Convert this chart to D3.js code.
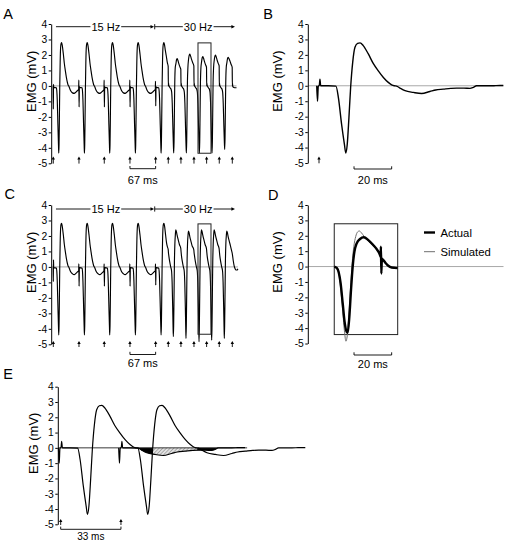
<!DOCTYPE html>
<html><head><meta charset="utf-8">
<script src="https://cdn.jsdelivr.net/npm/d3@7"></script>
<style>
body{margin:0;background:#fff;}
svg{display:block;font-family:"Liberation Sans",Arial,sans-serif;}
</style></head><body>
<svg id="chart" width="507" height="547"></svg>
<script>
// ---------------- DATA (ms, mV) ----------------
const yTicks = [4,3,2,1,0,-1,-2,-3,-4,-5];
const stimTrain = [0,67,133,200,267,300,333,367,400,433,467];
const stimSingle = [0];
const stimPair = [0,32];
const hzLabels = ["15 Hz","30 Hz"];
const hzBounds = [7,263,474];
const hzLabelAt = [137,378];
const barTrain = [200,267], barTrainLabel = "67 ms";
const barSingle = [18.6,38.6], barSingleLabel = "20 ms";
const barPair = [0,32], barPairLabel = "33 ms";
const boxTrain = [377.5,411.4,-4.35,2.78];
const boxD = [8.1,41.8,-4.42,2.78];
const legendNames = ["Actual","Simulated"];
const fillSegments = [[40.6,48.8,"solid"],[48.8,72.5,"hatch"],[72.5,84,"solid"]];

const mwave = [[-1.2,0],[-0.8,-1.0],[-0.4,-0.05],[0.2,0.05],[0.5,0.43],[0.9,0],[2,0],[5,0],[9,-0.02],[10.3,-0.76],[12,-2.49],[13.5,-3.79],[14.2,-4.35],[15,-3.79],[15.9,-2.06],[16.8,-0.11],[17.9,1.52],[19.1,2.49],[20.5,2.75],[21.8,2.78],[23.5,2.6],[26.2,2.06],[28.8,1.45],[31.5,0.97],[34.2,0.54],[36.8,0.22],[38.6,0.06],[40,0],[41.2,-0.02],[43,-0.15],[45.7,-0.32],[50.1,-0.43],[54.5,-0.5],[58.9,-0.37],[62,-0.27],[66,-0.22],[70,-0.17],[73.1,-0.15],[77,-0.15],[80.2,-0.17],[82,-0.1],[83.7,0],[87,0],[90.8,0],[94,0.01],[97.9,0.02]];

const traceA = [
[-1,0],[-0.4,0],[0,-1.5],[0.6,0.1],[1.2,-0.1],[8,-0.12],[9.2,-0.35],[10.3,-0.9],[12,-2.5],[13.5,-3.8],[14.2,-4.35],[15,-3.8],[15.9,-2.06],[16.8,-0.11],[17.9,1.52],[19.1,2.49],[20.5,2.75],[21.8,2.8],[23.5,2.6],[26.2,2.06],[28.8,1.45],[31.5,0.97],[34.2,0.54],[36.8,0.22],[38.6,0.06],[41.2,-0.05],[43,-0.18],[45.7,-0.33],[50.1,-0.45],[54.5,-0.48],[58.9,-0.4],[63,-0.3],[66.2,-0.22],
[66.6,0.37],[67.3,-1.36],[68,-0.05],[69,-0.1],[75,-0.12],[76.2,-0.35],[77.3,-0.9],[79,-2.5],[80.5,-3.8],[81.2,-4.35],[82,-3.8],[82.9,-2.06],[83.8,-0.11],[84.9,1.52],[86.1,2.49],[87.5,2.75],[88.8,2.8],[90.5,2.6],[93.2,2.06],[95.8,1.45],[98.5,0.97],[101.2,0.54],[103.8,0.22],[105.6,0.06],[108.2,-0.05],[110,-0.18],[112.7,-0.33],[117.1,-0.45],[121.5,-0.48],[125.9,-0.4],[130,-0.3],[132.2,-0.22],
[132.6,0.37],[133.3,-1.36],[134,-0.05],[135,-0.1],[141,-0.12],[142.2,-0.35],[143.3,-0.9],[145,-2.5],[146.5,-3.8],[147.2,-4.35],[148,-3.8],[148.9,-2.06],[149.8,-0.11],[150.9,1.52],[152.1,2.49],[153.5,2.75],[154.8,2.8],[156.5,2.6],[159.2,2.06],[161.8,1.45],[164.5,0.97],[167.2,0.54],[169.8,0.22],[171.6,0.06],[174.2,-0.05],[176,-0.18],[178.7,-0.33],[183.1,-0.45],[187.5,-0.48],[191.9,-0.4],[196,-0.3],[199.2,-0.22],
[199.6,0.37],[200.3,-1.36],[201,-0.05],[202,-0.1],[208,-0.12],[209.2,-0.35],[210.3,-0.9],[212,-2.5],[213.5,-3.8],[214.2,-4.35],[215,-3.8],[215.9,-2.06],[216.8,-0.11],[217.9,1.52],[219.1,2.49],[220.5,2.75],[221.8,2.8],[223.5,2.6],[226.2,2.06],[228.8,1.45],[231.5,0.97],[234.2,0.54],[236.8,0.22],[238.6,0.06],[241.2,-0.05],[243,-0.18],[245.7,-0.33],[250.1,-0.45],[254.5,-0.48],[258.9,-0.4],[263,-0.3],[266.2,-0.22],
[266.6,0.3],[267.3,-1.3],[268,-0.05],[269,-0.1],[275,-0.12],[276.2,-0.35],[277.3,-0.9],[279,-2.5],[280.5,-3.8],[281.2,-4.35],[282,-3.8],[282.9,-2.06],[283.8,-0.11],[284.9,1.52],[286.1,2.49],[287.5,2.75],[288.8,2.8],[290.5,2.6],[292.3,2.3],[294.7,1.95],[297.5,1.5],[299.7,1.26],
[300.2,0],[300.6,0.2],[301.2,0.05],[303,-0.05],[305.5,-0.15],[307,-0.2],[308.8,-0.4],[310.3,-1.1],[312,-2.7],[313.4,-3.9],[314.2,-4.33],[315,-3.6],[315.9,-1.8],[316.9,0.2],[318.2,1.2],[319.8,1.42],[321.5,1.69],[323,1.77],[324.8,1.67],[327.5,1.44],[330.5,1.22],[332.7,1.07],
[333.2,0],[333.6,0.2],[334.2,0.05],[336,-0.05],[338.5,-0.15],[340,-0.2],[341.8,-0.4],[343.3,-1.1],[345,-2.7],[346.4,-3.9],[347.2,-4.33],[348,-3.6],[348.9,-1.8],[349.9,0.2],[351.2,1.2],[352.8,1.71],[354.5,1.98],[356,2.06],[357.8,1.96],[360.5,1.73],[363.5,1.51],[366.7,1.3],
[367.2,0],[367.6,0.2],[368.2,0.05],[370,-0.05],[372.5,-0.15],[374,-0.2],[375.8,-0.4],[377.3,-1.1],[379,-2.7],[380.4,-3.9],[381.2,-4.33],[382,-3.6],[382.9,-1.8],[383.9,0.2],[385.2,1.2],[386.8,1.55],[388.5,1.82],[390,1.9],[391.8,1.8],[394.5,1.57],[397.5,1.35],[399.7,1.2],
[400.2,0],[400.6,0.2],[401.2,0.05],[403,-0.05],[405.5,-0.15],[407,-0.2],[408.8,-0.4],[410.3,-1.1],[412,-2.7],[413.4,-3.9],[414.2,-4.33],[415,-3.6],[415.9,-1.8],[416.9,0.2],[418.2,1.2],[419.8,1.64],[421.5,1.91],[423,1.99],[424.8,1.89],[427.5,1.66],[430.5,1.44],[432.7,1.29],
[433.2,0],[433.6,0.2],[434.2,0.05],[436,-0.05],[438.5,-0.15],[440,-0.2],[441.8,-0.4],[443.3,-1.1],[445,-2.6],[446.4,-3.7],[447.2,-4.1],[448,-3.4],[448.9,-1.7],[449.9,0.2],[451.2,1.2],[452.8,1.49],[454.5,1.76],[456,1.84],[458,1.78],[461,1.6],[464,1.38],[466.7,1.2],
[467.2,0],[467.6,0.15],[468.3,-0.05],[471,-0.1],[475,-0.12],[478,-0.12]
];

const traceC = [
[-1,0],[-0.3,0],[0,-0.95],[0.5,0.45],[1,0],[2,-0.05],[8,-0.08],[9.2,-0.3],[10.3,-0.9],[12,-2.5],[13.5,-3.85],[14.2,-4.4],[15,-3.8],[15.9,-2.06],[16.8,-0.11],[17.9,1.52],[19.1,2.5],[20.5,2.78],[21.8,2.82],[23.5,2.6],[26.2,2.06],[28.8,1.45],[31.5,0.97],[34.2,0.54],[36.8,0.22],[38.6,0.06],[41.2,-0.05],[43,-0.18],[45.7,-0.33],[50.1,-0.45],[54.5,-0.5],[58.9,-0.42],[63,-0.32],[66.2,-0.25],
[66.6,0.2],[67.3,-1.24],[68,-0.05],[69,-0.05],[75,-0.08],[76.2,-0.3],[77.3,-0.9],[79,-2.5],[80.5,-3.85],[81.2,-4.4],[82,-3.8],[82.9,-2.06],[83.8,-0.11],[84.9,1.52],[86.1,2.5],[87.5,2.78],[88.8,2.82],[90.5,2.6],[93.2,2.06],[95.8,1.45],[98.5,0.97],[101.2,0.54],[103.8,0.22],[105.6,0.06],[108.2,-0.05],[110,-0.18],[112.7,-0.33],[117.1,-0.45],[121.5,-0.5],[125.9,-0.42],[130,-0.32],[132.2,-0.25],
[132.6,0.2],[133.3,-1.24],[134,-0.05],[135,-0.05],[141,-0.08],[142.2,-0.3],[143.3,-0.9],[145,-2.5],[146.5,-3.85],[147.2,-4.4],[148,-3.8],[148.9,-2.06],[149.8,-0.11],[150.9,1.52],[152.1,2.5],[153.5,2.78],[154.8,2.82],[156.5,2.6],[159.2,2.06],[161.8,1.45],[164.5,0.97],[167.2,0.54],[169.8,0.22],[171.6,0.06],[174.2,-0.05],[176,-0.18],[178.7,-0.33],[183.1,-0.45],[187.5,-0.5],[191.9,-0.42],[196,-0.32],[199.2,-0.25],
[199.6,0.2],[200.3,-1.24],[201,-0.05],[202,-0.05],[208,-0.08],[209.2,-0.3],[210.3,-0.9],[212,-2.5],[213.5,-3.85],[214.2,-4.4],[215,-3.8],[215.9,-2.06],[216.8,-0.11],[217.9,1.52],[219.1,2.5],[220.5,2.78],[221.8,2.82],[223.5,2.6],[226.2,2.06],[228.8,1.45],[231.5,0.97],[234.2,0.54],[236.8,0.22],[238.6,0.06],[241.2,-0.05],[243,-0.18],[245.7,-0.33],[250.1,-0.45],[254.5,-0.5],[258.9,-0.42],[263,-0.32],[266.2,-0.25],
[266.6,0.2],[267.3,-1.17],[268,-0.05],[269,-0.05],[275,-0.08],[276.2,-0.3],[277.3,-0.9],[279,-2.5],[280.5,-3.85],[281.2,-4.4],[282,-3.8],[282.9,-2.06],[283.8,-0.11],[284.9,1.52],[286.1,2.5],[287.5,2.78],[288.8,2.82],[290.5,2.6],[293,2.06],[295.5,1.55],[297.5,1.31],[299.8,1.12],
[300.3,0.95],[301.5,0.7],[303.7,0.34],[306.3,0],[308.5,-0.25],[310,-1.0],[311.5,-2.6],[312.5,-3.9],[313.2,-4.5],[314,-3.8],[315,-1.8],[316,0.3],[317.2,1.5],[318.5,2.1],[319.6,2.39],[321,2.3],[323,2.05],[326,1.74],[329,1.45],[332.6,1.2],
[333.3,1.0],[334.5,0.7],[336.7,0.34],[339.3,0],[341.5,-0.25],[343,-1.0],[344.5,-2.6],[345.5,-3.9],[346.2,-4.62],[347,-3.8],[348,-1.8],[349,0.3],[350.2,1.5],[351.5,2.05],[352.6,2.32],[354,2.23],[356,1.98],[359,1.67],[362,1.38],[366.6,1.1],
[367.3,0.92],[368.5,0.7],[370.7,0.34],[373.3,0],[375.5,-0.25],[377,-1.0],[378.5,-2.6],[379.5,-3.9],[380.2,-4.83],[381,-3.9],[382,-1.8],[383,0.3],[384.2,1.5],[385.5,2.1],[386.6,2.39],[388,2.3],[390,2.05],[393,1.74],[396,1.45],[399.6,1.18],
[400.3,1.0],[401.5,0.7],[403.7,0.34],[406.3,0],[408.5,-0.25],[410,-1.0],[411.5,-2.6],[412.5,-3.9],[413.2,-4.73],[414,-3.85],[415,-1.8],[416,0.3],[417.2,1.5],[418.5,2.1],[419.6,2.39],[421,2.3],[423,2.05],[426,1.74],[429,1.45],[432.6,1.18],
[433.3,1.0],[434.5,0.7],[436.7,0.34],[439.3,0],[441.5,-0.25],[443,-1.0],[444.5,-2.6],[445.5,-3.9],[446.2,-4.62],[447,-3.8],[448,-1.8],[449,0.3],[450.2,1.5],[451.5,2.05],[452.6,2.32],[454,2.23],[456,1.98],[459,1.67],[462,1.38],[464.5,1.12],[467,0.85],[469.5,0.4],[472,0.05],[474,-0.1],[477,-0.2],[480,-0.2],[481.5,-0.12]
];

const actualD = [[8.1,0],[9.4,-0.08],[10.4,-0.34],[11.5,-1.1],[12.6,-2.4],[13.6,-3.6],[14.7,-4.25],[15.2,-4.3],[16.1,-3.3],[17,-1.53],[17.9,0],[18.8,0.96],[20,1.5],[21.8,1.79],[23.8,1.9],[26.2,1.72],[28.8,1.4],[31,1.07],[32.4,0.75],[32.7,0.64],[32.9,1.29],[33.1,-0.45],[33.4,0.5],[34.2,0.42],[35.6,0.2],[36.8,0.05],[38.6,-0.06],[41.8,-0.1]];
const simulatedD = [[8.1,0],[9.4,-0.1],[10.4,-0.45],[11.5,-1.4],[12.6,-2.9],[13.6,-4.3],[14.3,-4.85],[15,-4.5],[15.8,-3.3],[16.7,-1.5],[17.6,0.2],[18.5,1.3],[19.5,1.95],[20.5,2.25],[21.4,2.31],[22.5,2.2],[24,1.95],[26.2,1.65],[28.8,1.35],[31,1.02],[32.7,0.72],[34.2,0.45],[35.6,0.22],[36.8,0.05],[38.6,-0.07],[41.8,-0.1]];

// ---------------- LAYOUT ----------------
const FONT = '"Liberation Sans", Arial, sans-serif';
const svg = d3.select('#chart');
const defs = svg.append('defs');
const pat = defs.append('pattern').attr('id','hatch').attr('patternUnits','userSpaceOnUse')
  .attr('width',2.6).attr('height',2.6).attr('patternTransform','rotate(45)');
pat.append('rect').attr('width',2.6).attr('height',2.6).attr('fill','#e2e2e2');
pat.append('line').attr('x1',0).attr('y1',0).attr('x2',0).attr('y2',2.6).attr('stroke','#6a6a6a').attr('stroke-width',0.9);

const xTrain = d3.scaleLinear().domain([0,467]).range([53.3,232.3]);
const xSingle = d3.scaleLinear().domain([0,98]).range([319,503.5]);
const xPair = d3.scaleLinear().domain([0,130]).range([60.7,305.5]);

const yA = d3.scaleLinear().domain([-5,4]).range([163.3,24]);
const yB = d3.scaleLinear().domain([-5,4]).range([163,24]);
const yC = d3.scaleLinear().domain([-5,4]).range([344.3,205]);
const yD = d3.scaleLinear().domain([-5,4]).range([343.5,205]);
const yE = d3.scaleLinear().domain([-5,4]).range([524.3,386.7]);

function drawAxis(y, ax, titleX, letter, lx, ly){
  const g = svg.append('g').attr('transform',`translate(${ax-0.5},0)`);
  g.call(d3.axisLeft(y).tickValues(yTicks).tickFormat(d=>String(d)).tickSize(2.5).tickSizeOuter(0).tickPadding(1.5));
  g.select('.domain').attr('stroke','#000');
  g.selectAll('.tick line').attr('stroke','#000');
  g.selectAll('.tick text').attr('font-size',10.3).attr('fill','#000').attr('font-family',FONT);
  svg.append('text').attr('transform',`translate(${titleX},${y(0.3)}) rotate(-90)`)
    .attr('text-anchor','middle').attr('font-size',13).attr('font-family',FONT).text('EMG (mV)');
  svg.append('text').attr('x',lx).attr('y',ly).attr('font-size',14.5).attr('font-family',FONT).text(letter);
}
function zeroLine(y, x0, x1, color, w){
  svg.append('line').attr('x1',x0).attr('x2',x1).attr('y1',y(0)).attr('y2',y(0))
    .attr('stroke',color).attr('stroke-width',w);
}
function trace(data, x, y, w, color, off){
  off = off||0;
  svg.append('path').datum(data)
    .attr('d', d3.line().x(d=>x(d[0]+off)).y(d=>y(d[1])).curve(d3.curveMonotoneX))
    .attr('fill','none').attr('stroke',color).attr('stroke-width',w).attr('stroke-linejoin','round');
}
function stims(times, x, yb, yt){
  times.forEach(t=>{
    const px = x(t);
    svg.append('line').attr('x1',px).attr('x2',px).attr('y1',yb).attr('y2',yt+1.5).attr('stroke','#000').attr('stroke-width',0.9);
    svg.append('path').attr('d',`M${px-1.7},${yt+3}L${px},${yt}L${px+1.7},${yt+3}Z`).attr('fill','#000');
  });
}
function scaleBar(range, label, x, yb, ty, fs){
  const a = x(range[0]), b = x(range[1]);
  svg.append('path').attr('d',`M${a},${yb-2.7}V${yb}H${b}V${yb-2.7}`).attr('fill','none').attr('stroke','#000').attr('stroke-width',0.9);
  svg.append('text').attr('x',(a+b)/2).attr('y',ty).attr('text-anchor','middle').attr('font-size',fs).attr('font-family',FONT).text(label);
}
function box(bx, x, y){
  svg.append('rect').attr('x',x(bx[0])).attr('y',y(bx[3])).attr('width',x(bx[1])-x(bx[0])).attr('height',y(bx[2])-y(bx[3]))
    .attr('fill','none').attr('stroke','#222').attr('stroke-width',1);
}
function header(x, yl){
  const x0 = x(hzBounds[0]), x1 = x(hzBounds[1]), x2 = x(hzBounds[2]);
  const g = svg.append('g');
  g.append('line').attr('x1',x0).attr('x2',x1-2).attr('y1',yl).attr('y2',yl).attr('stroke','#000').attr('stroke-width',0.9);
  g.append('path').attr('d',`M${x1-3.6},${yl-1.8}L${x1},${yl}L${x1-3.6},${yl+1.8}Z`).attr('fill','#000');
  g.append('line').attr('x1',x1+0.6).attr('x2',x1+0.6).attr('y1',yl-2.6).attr('y2',yl+2.6).attr('stroke','#000').attr('stroke-width',0.9);
  g.append('line').attr('x1',x1+0.6).attr('x2',x2-2).attr('y1',yl).attr('y2',yl).attr('stroke','#000').attr('stroke-width',0.9);
  g.append('path').attr('d',`M${x2-3.6},${yl-1.8}L${x2},${yl}L${x2-3.6},${yl+1.8}Z`).attr('fill','#000');
  hzLabels.forEach((s,i)=>{
    const t = g.append('text').attr('x',x(hzLabelAt[i])).attr('y',yl+3.9).attr('text-anchor','middle')
      .attr('font-size',11).attr('font-family',FONT).attr('fill','#000').text(s);
    const bb = t.node().getBBox();
    g.insert('rect', () => t.node()).attr('x',bb.x-1).attr('y',yl-2).attr('width',bb.width+2).attr('height',4).attr('fill','#fff');
  });
}

// ---- Panel A ----
zeroLine(yA, 51.7, xTrain(478), '#a8a8a8', 1);
drawAxis(yA, 51.7, 36.3, 'A', 3.3, 19.3);
trace(traceA, xTrain, yA, 1.15, '#000');
box(boxTrain, xTrain, yA);
header(xTrain, 26.7);
stims(stimTrain, xTrain, 163.6, 156.6);
scaleBar(barTrain, barTrainLabel, xTrain, 168.7, 183.5, 11);

// ---- Panel B ----
zeroLine(yB, 308.3, 503.5, '#a8a8a8', 1);
drawAxis(yB, 308.3, 282, 'B', 263.3, 18.5);
trace(mwave, xSingle, yB, 1.4, '#000');
stims(stimSingle, xSingle, 163.3, 156.6);
scaleBar(barSingle, barSingleLabel, xSingle, 169, 184, 11);

// ---- Panel C ----
zeroLine(yC, 51.7, xTrain(481.5), '#a8a8a8', 1);
drawAxis(yC, 51.7, 36.3, 'C', 4.5, 199);
trace(traceC, xTrain, yC, 1.15, '#000');
box(boxTrain, xTrain, yC);
header(xTrain, 209);
stims(stimTrain, xTrain, 347, 341);
scaleBar(barTrain, barTrainLabel, xTrain, 354.5, 367, 11);

// ---- Panel D ----
zeroLine(yD, 308.3, 503.5, '#a8a8a8', 1);
drawAxis(yD, 308.3, 282, 'D', 268, 200);
box(boxD, xSingle, yD);
trace(simulatedD, xSingle, yD, 1, '#6e6e6e');
trace(actualD, xSingle, yD, 2.4, '#000');
scaleBar(barSingle, barSingleLabel, xSingle, 355, 368, 11);
const legY = [232.5, 251.7];
legendNames.forEach((n,i)=>{
  svg.append('line').attr('x1',424).attr('x2',435).attr('y1',legY[i]).attr('y2',legY[i])
    .attr('stroke', i===0?'#000':'#6e6e6e').attr('stroke-width', i===0?2.4:1);
  svg.append('text').attr('x',440.5).attr('y',legY[i]+4).attr('font-size',11.3).attr('font-family',FONT).text(n);
});

// ---- Panel E ----
const eArea = d3.area().x(d=>xPair(d[0])).y0(yE(0)).y1(d=>yE(Math.min(0,d[1]))).curve(d3.curveMonotoneX);
const eFillData = mwave.filter(d=>d[0]>=36.8 && d[0]<=87);
fillSegments.forEach((s,i)=>{
  defs.append('clipPath').attr('id','clipE'+i).append('rect')
    .attr('x',xPair(s[0])).attr('width',xPair(s[1])-xPair(s[0])).attr('y',yE(1)).attr('height',yE(-1)-yE(1));
  svg.append('path').datum(eFillData).attr('d',eArea).attr('clip-path',`url(#clipE${i})`)
    .attr('fill', s[2]==='solid' ? '#000' : 'url(#hatch)');
});
zeroLine(yE, 58.3, xPair(99), '#222', 0.9);
drawAxis(yE, 58.3, 38, 'E', 3.3, 379);
trace(mwave, xPair, yE, 1.2, '#000', stimPair[0]);
trace(mwave, xPair, yE, 1.2, '#000', stimPair[1]);
stims(stimPair, xPair, 525, 519);
scaleBar(barPair, barPairLabel, xPair, 529.3, 539.5, 10);
</script>
</body></html>
